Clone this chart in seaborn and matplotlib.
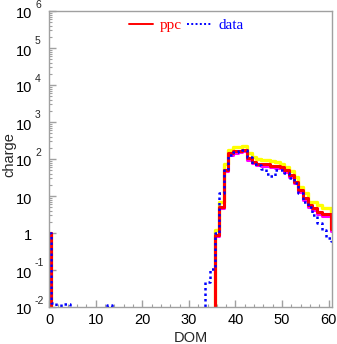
import numpy as np
import pandas as pd
import matplotlib
matplotlib.use("Agg")
import matplotlib.pyplot as plt
import matplotlib.transforms as mtransforms
from matplotlib.lines import Line2D
from matplotlib.ticker import FixedLocator, FixedFormatter, LogLocator, NullFormatter, MultipleLocator
import seaborn as sns

# DOM index 0..61
dom = list(range(0, 62))

# simulated charge (ppc), per DOM
ppc = [1.0] + [0.0] * 35 + [
    0.9, 5.1, 52, 141, 160, 168, 175, 105, 85, 74,
    73, 72, 65, 63, 62, 50, 37, 24.5, 14.5, 8.7,
    5.8, 4.7, 3.8, 3.3, 3.3, 1.3,
]
# upper variation of the simulation
ppc_hi = [1.0] + [0.0] * 35 + [
    1.2, 7.0, 73, 180, 210, 210, 225, 141, 115, 98,
    95, 92, 90, 85, 73, 62, 46, 33, 18, 12,
    7.0, 7.0, 5.8, 4.7, 4.7, 1.4,
]
# lower variation of the simulation
ppc_lo = [1.0] + [0.0] * 35 + [
    0.85, 4.7, 47, 128, 145, 153, 160, 96, 78, 68,
    66, 65, 59, 57, 56, 45, 33, 22, 13, 8.0,
    5.2, 4.2, 3.3, 2.9, 2.9, 1.1,
]
# measured charge (data)
data = [1.0, 0.013, 0.0, 0.012, 0.012] + [0.0] * 8 + [0.011] + [0.0] * 20 + [
    0.048, 0.105, 1.0, 12, 53, 130, 150, 165, 175, 115,
    75, 68, 55, 40, 35, 52, 50, 42, 30, 22,
    12, 7.0, 5.2, 3.0, 1.9, 1.2, 0.75, 0.6,
]

# y-axis decades: mantissa text and exponent text
decades = [1e-2, 1e-1, 1, 1e1, 1e2, 1e3, 1e4, 1e5, 1e6]
base_labels = ["10", "10", "1", "10", "10", "10", "10", "10", "10"]
exp_labels = ["-2", "-1", "", "", "2", "3", "4", "5", "6"]

df = pd.DataFrame({"DOM": dom, "ppc": ppc, "ppc_hi": ppc_hi,
                   "ppc_lo": ppc_lo, "data": data})

sns.set_style("white")
plt.rcParams["font.family"] = ["Liberation Sans", "DejaVu Sans"]

fig = plt.figure(figsize=(3.37, 3.44), dpi=100)
ax = fig.add_axes([49 / 337, 1 - 307 / 344, 283 / 337, 296 / 344])

common = dict(x="DOM", ax=ax, drawstyle="steps-mid", legend=False, sort=False)
sns.lineplot(data=df, y="ppc_hi", color="#ffff00", linewidth=2.4, **common)
sns.lineplot(data=df, y="ppc_lo", color="#ff00ff", linewidth=2.2, **common)
sns.lineplot(data=df, y="ppc", color="#ff0000", linewidth=2.2, **common)
sns.lineplot(data=df, y="data", color="#0000ff", linewidth=1.8,
             linestyle=(0, (1, 1.2)), **common)

ax.set_yscale("log")
ax.set_ylim(1e-2, 1e6)
ax.set_xlim(0, 60.7)

# axes frame and ticks
grey = "#a0a0a0"
for side, sp in ax.spines.items():
    sp.set_color(grey)
    sp.set_linewidth(1.0)

ax.yaxis.set_major_locator(FixedLocator(decades))
ax.yaxis.set_major_formatter(FixedFormatter(base_labels))
ax.yaxis.set_minor_locator(LogLocator(base=10, subs=np.arange(2, 10), numticks=20))
ax.yaxis.set_minor_formatter(NullFormatter())

ax.xaxis.set_major_locator(MultipleLocator(10))
ax.xaxis.set_minor_locator(MultipleLocator(2))

ax.tick_params(axis="both", which="both", direction="in", color=grey,
               labelsize=10.5, labelcolor="black", top=False, right=False,
               bottom=True, left=True)
ax.tick_params(axis="both", which="major", length=5, width=1)
ax.tick_params(axis="both", which="minor", length=2.5, width=0.8)
ax.tick_params(axis="y", which="major", pad=12)
ax.tick_params(axis="x", which="major", pad=4)

# nudge the y mantissas slightly below their ticks
shift_down = mtransforms.ScaledTranslation(0, -2 / 100, fig.dpi_scale_trans)
for lbl in ax.get_yticklabels():
    lbl.set_transform(lbl.get_transform() + shift_down)

# raised exponents next to the "10" labels
exp_trans = mtransforms.offset_copy(
    mtransforms.blended_transform_factory(ax.transAxes, ax.transData),
    fig=fig, x=-14, y=6.5, units="dots")
for val, e in zip(decades, exp_labels):
    if e:
        ax.text(0, val, e, transform=exp_trans, ha="left", va="center",
                fontsize=7.5, clip_on=False)

ax.set_xlabel("DOM", fontsize=10.5, labelpad=3)
ax.set_ylabel("charge", fontsize=10.5)
ax.yaxis.set_label_coords(-33 / 283, 0.515)

handles = [Line2D([], [], color="#ff0000", linewidth=1.4),
           Line2D([], [], color="#0000ff", linewidth=1.4, linestyle=(0, (1, 1.2)))]
leg = ax.legend(handles, ["ppc", "data"], ncol=2, frameon=False,
                loc="upper center", bbox_to_anchor=(0.485, 1.005),
                prop={"family": "Liberation Serif", "size": 11},
                handlelength=1.6, handletextpad=0.45, columnspacing=0.35,
                borderaxespad=0.2)
for txt, c in zip(leg.get_texts(), ["#ff0000", "#0000ff"]):
    txt.set_color(c)

fig.savefig("out.png", dpi=100)
